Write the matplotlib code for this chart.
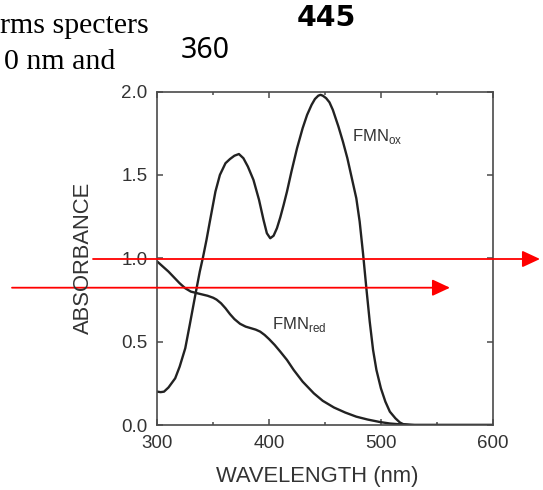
import matplotlib
matplotlib.use("Agg")
import matplotlib.pyplot as plt

# ---- data ----
ox_wl = [300, 303, 306, 310, 316, 320, 325, 329, 334, 338, 341, 344, 347, 352, 356, 361,
         365, 369, 373, 377, 381, 386, 391, 395, 398, 401, 404, 407, 410, 413, 416, 420, 425,
         430, 434, 438, 441, 444, 446, 448, 451, 454, 457, 462, 466, 470, 474, 478, 481,
         484, 487, 490, 493, 496, 500, 504, 508, 513, 517, 520, 530, 560, 600]
ox_abs = [0.20, 0.197, 0.20, 0.225, 0.28, 0.35, 0.46, 0.60, 0.78, 0.92, 1.01, 1.11, 1.22, 1.40, 1.50, 1.57,
          1.595, 1.615, 1.625, 1.60, 1.55, 1.47, 1.35, 1.23, 1.15, 1.12, 1.135, 1.18, 1.245, 1.32, 1.40, 1.52, 1.66,
          1.78, 1.86, 1.92, 1.955, 1.975, 1.98, 1.975, 1.96, 1.935, 1.89, 1.79, 1.70, 1.60, 1.48, 1.36, 1.22,
          1.03, 0.82, 0.62, 0.45, 0.33, 0.22, 0.14, 0.08, 0.04, 0.015, 0.005, 0.0, 0.0, 0.0]

red_wl = [300, 305, 310, 315, 320, 325, 330, 337, 345, 350, 353, 357, 361, 365, 369, 374,
          379, 384, 388, 392, 396, 400, 405, 410, 416, 422, 430, 440, 448, 458, 468, 478,
          488, 499, 508, 517, 525, 560, 600]
red_abs = [0.98, 0.95, 0.92, 0.885, 0.85, 0.82, 0.80, 0.788, 0.775, 0.763, 0.752, 0.73, 0.70, 0.665, 0.635, 0.607,
           0.59, 0.58, 0.572, 0.56, 0.54, 0.515, 0.48, 0.44, 0.39, 0.33, 0.26, 0.19, 0.145, 0.105, 0.075, 0.05,
           0.033, 0.018, 0.009, 0.004, 0.0, 0.0, 0.0]

x_major = [300, 400, 500, 600]
x_minor = [350, 450, 550]
y_major = [0.0, 0.5, 1.0, 1.5, 2.0]
y_labels = ["0.0", "0.5", "1.0", "1.5", "2.0"]

W, H = 543, 490
fig = plt.figure(figsize=(W / 100, H / 100), dpi=100)
plt.rcParams['mathtext.fontset'] = 'custom'
plt.rcParams['mathtext.rm'] = 'Liberation Sans'

L, R, T, B = 157.3, 492.7, 91.5, 425.0
ax = fig.add_axes([L / W, 1 - B / H, (R - L) / W, (B - T) / H])

line_col = '#222222'
ax.plot(ox_wl, ox_abs, color=line_col, lw=1.7, solid_joinstyle='round', solid_capstyle='round')
ax.plot(red_wl, red_abs, color=line_col, lw=1.7, solid_joinstyle='round', solid_capstyle='round')

ax.set_xlim(300, 600)
ax.set_ylim(0, 2.0)
ax.set_xticks(x_major)
ax.set_xticks(x_minor, minor=True)
ax.set_yticks(y_major)
ax.set_yticklabels(y_labels)

for sp in ax.spines.values():
    sp.set_color('#4a4a4a')
    sp.set_linewidth(1.2)

ax.tick_params(which='both', direction='in', top=True, right=True, colors='#4a4a4a', width=1.1)
ax.tick_params(which='major', length=4.5, pad=7, labelsize=13.5, labelcolor='#333333')
ax.tick_params(which='minor', length=2.5)
for lab in ax.get_xticklabels() + ax.get_yticklabels():
    lab.set_fontfamily('Liberation Sans')

ax.text(474, 1.73, r'FMN$_{\rm ox}$', fontsize=12, family='Liberation Sans', color='#333333', va='center')
ax.text(402.6, 0.60, r'FMN$_{\rm red}$', fontsize=12, family='Liberation Sans', color='#333333', va='center')

fig.text(317.5 / W, 1 - 476 / H, 'WAVELENGTH (nm)', fontsize=15.8, family='Liberation Sans',
         color='#333333', ha='center', va='center')
fig.text(83 / W, 1 - 258 / H, 'ABSORBANCE', fontsize=15.8, family='Liberation Sans',
         color='#333333', ha='center', va='center', rotation=90)

# overlaid annotation text from the source page
fig.text(0 / W, 1 - 33 / H, 'rms specters', fontsize=21.5, family='Liberation Serif',
         color='black', ha='left', va='baseline')
fig.text(4 / W, 1 - 69 / H, '0 nm and', fontsize=21.5, family='Liberation Serif',
         color='black', ha='left', va='baseline')
fig.text(205 / W, 1 - 51 / H, '360', fontsize=20.5, family='Noto Sans',
         color='black', ha='center', va='center')
fig.text(326 / W, 1 - 17.5 / H, '445', fontsize=20.5, family='DejaVu Sans', weight='bold',
         color='black', ha='center', va='center')

# red arrows
arrow_style = '-|>,head_length=0.6,head_width=0.28'
for (x0, x1, yy) in [(93, 540, 259), (12, 450, 287.7)]:
    ax.annotate('', xy=(x1, H - yy), xytext=(x0, H - yy),
                xycoords='figure pixels', textcoords='figure pixels',
                arrowprops=dict(arrowstyle=arrow_style, color='red', lw=1.3,
                                mutation_scale=18, shrinkA=0, shrinkB=0),
                annotation_clip=False)

fig.savefig('out.png', dpi=100)
